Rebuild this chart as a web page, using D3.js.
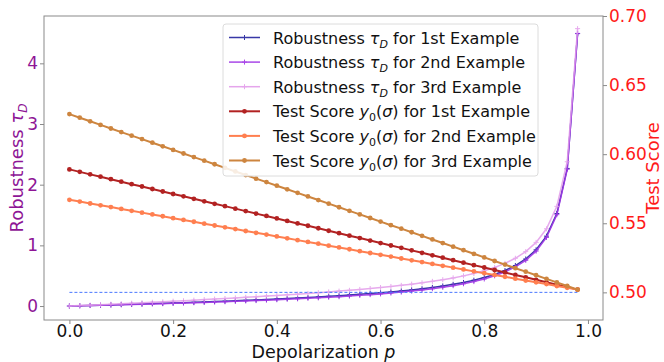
<!DOCTYPE html>
<html>
<head>
<meta charset="utf-8">
<script src="https://cdn.jsdelivr.net/npm/d3@7"></script>
<style>
  body { margin: 0; background: #fff; }
  svg { font-family: "DejaVu Sans", sans-serif; }
</style>
</head>
<body>
<div id="chart"></div>
<script>
const depolarization = [0, 0.02, 0.04, 0.06, 0.08, 0.1, 0.12, 0.14, 0.16, 0.18, 0.2, 0.22, 0.24, 0.26, 0.28, 0.3, 0.32, 0.34, 0.36, 0.38,
  0.4, 0.42, 0.44, 0.46, 0.48, 0.5, 0.52, 0.54, 0.56, 0.58, 0.6, 0.62, 0.64, 0.66, 0.68, 0.7, 0.72, 0.74, 0.76, 0.78,
  0.8, 0.82, 0.84, 0.86, 0.88, 0.9, 0.92, 0.94, 0.96, 0.98]

const robust1 = [0, 0.005, 0.009, 0.014, 0.019, 0.024, 0.029, 0.034, 0.040, 0.045, 0.051, 0.056, 0.062, 0.068, 0.074, 0.081, 0.087, 0.094, 0.101, 0.108,
  0.116, 0.124, 0.132, 0.141, 0.150, 0.160, 0.170, 0.181, 0.193, 0.205, 0.218, 0.233, 0.249, 0.266, 0.285, 0.307, 0.331, 0.358, 0.389, 0.426,
  0.469, 0.521, 0.585, 0.668, 0.776, 0.927, 1.152, 1.525, 2.268, 4.490]
const robust2 = [0, 0.004, 0.008, 0.012, 0.017, 0.021, 0.025, 0.030, 0.035, 0.039, 0.044, 0.049, 0.055, 0.060, 0.066, 0.071, 0.077, 0.084, 0.090, 0.097,
  0.104, 0.111, 0.119, 0.127, 0.135, 0.145, 0.154, 0.164, 0.176, 0.188, 0.200, 0.214, 0.230, 0.246, 0.265, 0.286, 0.309, 0.336, 0.367, 0.403,
  0.446, 0.498, 0.562, 0.644, 0.753, 0.905, 1.130, 1.506, 2.254, 4.493]
const robust3 = [0, 0.008, 0.015, 0.023, 0.031, 0.039, 0.047, 0.055, 0.063, 0.071, 0.080, 0.088, 0.097, 0.106, 0.115, 0.125, 0.134, 0.144, 0.154, 0.164,
  0.174, 0.185, 0.196, 0.208, 0.220, 0.233, 0.246, 0.259, 0.274, 0.289, 0.305, 0.323, 0.341, 0.361, 0.383, 0.407, 0.434, 0.464, 0.497, 0.536,
  0.582, 0.636, 0.703, 0.787, 0.897, 1.049, 1.273, 1.643, 2.378, 4.572]

const score1 = [0.5890, 0.5872, 0.5854, 0.5837, 0.5819, 0.5801, 0.5783, 0.5766, 0.5748, 0.5730, 0.5712, 0.5695, 0.5677, 0.5659, 0.5641, 0.5624, 0.5606, 0.5588, 0.5570, 0.5553,
  0.5535, 0.5517, 0.5499, 0.5482, 0.5464, 0.5446, 0.5428, 0.5410, 0.5393, 0.5375, 0.5357, 0.5339, 0.5322, 0.5304, 0.5286, 0.5268, 0.5251, 0.5233, 0.5215, 0.5197,
  0.5180, 0.5162, 0.5144, 0.5126, 0.5109, 0.5091, 0.5073, 0.5055, 0.5038, 0.5020]
const score2 = [0.5670, 0.5657, 0.5643, 0.5630, 0.5617, 0.5604, 0.5590, 0.5577, 0.5564, 0.5551, 0.5537, 0.5524, 0.5511, 0.5497, 0.5484, 0.5471, 0.5458, 0.5444, 0.5431, 0.5418,
  0.5405, 0.5391, 0.5378, 0.5365, 0.5352, 0.5338, 0.5325, 0.5312, 0.5298, 0.5285, 0.5272, 0.5259, 0.5245, 0.5232, 0.5219, 0.5206, 0.5192, 0.5179, 0.5166, 0.5152,
  0.5139, 0.5126, 0.5113, 0.5099, 0.5086, 0.5073, 0.5060, 0.5046, 0.5033, 0.5020]
const score3 = [0.6290, 0.6264, 0.6238, 0.6212, 0.6186, 0.6160, 0.6134, 0.6109, 0.6083, 0.6057, 0.6031, 0.6005, 0.5979, 0.5953, 0.5927, 0.5901, 0.5875, 0.5849, 0.5823, 0.5798,
  0.5772, 0.5746, 0.5720, 0.5694, 0.5668, 0.5642, 0.5616, 0.5590, 0.5564, 0.5538, 0.5512, 0.5486, 0.5461, 0.5435, 0.5409, 0.5383, 0.5357, 0.5331, 0.5305, 0.5279,
  0.5253, 0.5227, 0.5201, 0.5175, 0.5150, 0.5124, 0.5098, 0.5072, 0.5046, 0.5020]

const baselineScore = 0.5
const ordinals = ['1st', '2nd', '3rd']

const xTicks = [0, 0.2, 0.4, 0.6, 0.8, 1.0]
const leftTicks = [0, 1, 2, 3, 4]
const rightTicks = [0.50, 0.55, 0.60, 0.65, 0.70]

const width = 664
const height = 362
const margin = { top: 16, right: 61, bottom: 42, left: 44 }
const fontSize = 17
const legendFontSize = 16

const robustColors = ['#23239e', '#a035e6', '#e39ceb']
const scoreColors = ['#b22222', '#ff7f50', '#cd853f']

const svg = d3.select('#chart').append('svg').attr('width', width).attr('height', height)

const x = d3.scaleLinear().domain([-0.049, 1.029]).range([margin.left, width - margin.right])
const yLeft = d3.scaleLinear().domain([-0.23, 4.78]).range([height - margin.bottom, margin.top])
const yRight = d3.scaleLinear().domain([0.48, 0.70]).range([height - margin.bottom, margin.top])

const robustSeries = [robust1, robust2, robust3]
const scoreSeries = [score1, score2, score3]

// robustness curves (left axis)
const robustGroup = svg.append('g').attr('class', 'robustGroup')
robustSeries.forEach((values, i) => {
  const pts = depolarization.map((p, j) => ({ p, v: values[j] }))
  const g = robustGroup.append('g').attr('opacity', i === 2 ? 0.85 : 0.9)
  g.append('path')
    .datum(pts)
    .attr('fill', 'none')
    .attr('stroke', robustColors[i])
    .attr('stroke-width', 1.5)
    .attr('d', d3.line().x(d => x(d.p)).y(d => yLeft(d.v)))
  g.selectAll('path.plus').data(pts).enter().append('path')
    .attr('class', 'plus')
    .attr('d', d => `M${x(d.p) - 2.5},${yLeft(d.v)}h5M${x(d.p)},${yLeft(d.v) - 2.5}v5`)
    .attr('stroke', robustColors[i])
    .attr('stroke-width', 1)
})

// dashed reference line at test score 0.5
svg.append('line')
  .attr('x1', x(depolarization[0]))
  .attr('x2', x(depolarization[depolarization.length - 1]))
  .attr('y1', yRight(baselineScore))
  .attr('y2', yRight(baselineScore))
  .attr('stroke', '#4a78ff')
  .attr('stroke-width', 1)
  .attr('stroke-dasharray', '3,2')

// test score lines (right axis)
const scoreGroup = svg.append('g').attr('class', 'scoreGroup')
scoreSeries.forEach((values, i) => {
  const pts = depolarization.map((p, j) => ({ p, v: values[j] }))
  scoreGroup.append('path')
    .datum(pts)
    .attr('fill', 'none')
    .attr('stroke', scoreColors[i])
    .attr('stroke-width', 2)
    .attr('d', d3.line().x(d => x(d.p)).y(d => yRight(d.v)))
  scoreGroup.selectAll(`circle.s${i}`).data(pts).enter().append('circle')
    .attr('class', `s${i}`)
    .attr('cx', d => x(d.p))
    .attr('cy', d => yRight(d.v))
    .attr('r', 2.4)
    .attr('fill', scoreColors[i])
})

// frame
svg.append('rect')
  .attr('x', margin.left).attr('y', margin.top)
  .attr('width', width - margin.left - margin.right)
  .attr('height', height - margin.top - margin.bottom)
  .attr('fill', 'none').attr('stroke', '#8a8a8a').attr('stroke-width', 1)

// axes
const xAxisGroup = svg.append('g').attr('transform', `translate(0, ${height - margin.bottom})`)
  .call(d3.axisBottom(x).tickValues(xTicks).tickFormat(d3.format('.1f')).tickSize(4).tickPadding(1))
const yLeftGroup = svg.append('g').attr('transform', `translate(${margin.left}, 0)`)
  .call(d3.axisLeft(yLeft).tickValues(leftTicks).tickFormat(d3.format('d')).tickSize(4).tickPadding(2))
const yRightGroup = svg.append('g').attr('transform', `translate(${width - margin.right}, 0)`)
  .call(d3.axisRight(yRight).tickValues(rightTicks).tickFormat(d3.format('.2f')).tickSize(4).tickPadding(2))

svg.selectAll('.domain').remove()
svg.selectAll('.tick line').attr('stroke', '#8a8a8a')
svg.selectAll('.tick text').attr('font-family', 'DejaVu Sans').attr('font-size', fontSize)
xAxisGroup.selectAll('.tick text').attr('fill', '#111')
yLeftGroup.selectAll('.tick text').attr('fill', '#8e1596')
yRightGroup.selectAll('.tick text').attr('fill', '#ff1a1a')

// axis labels
const xLabel = svg.append('text')
  .attr('x', (margin.left + width - margin.right) / 2)
  .attr('y', 358)
  .attr('text-anchor', 'middle')
  .attr('font-size', 17.5)
  .attr('fill', '#111')
xLabel.append('tspan').text('Depolarization ')
xLabel.append('tspan').attr('font-style', 'italic').text('p')

const midY = (margin.top + height - margin.bottom) / 2
const leftLabel = svg.append('text')
  .attr('transform', `translate(23, ${midY}) rotate(-90)`)
  .attr('text-anchor', 'middle')
  .attr('font-size', 18)
  .attr('fill', '#8e1596')
leftLabel.append('tspan').text('Robustness ')
leftLabel.append('tspan').attr('font-style', 'italic').text('τ')
leftLabel.append('tspan').attr('font-style', 'italic').attr('font-size', 12).attr('dy', 4).text('D')

svg.append('text')
  .attr('transform', `translate(659, ${midY}) rotate(-90)`)
  .attr('text-anchor', 'middle')
  .attr('font-size', 18)
  .attr('fill', '#ff1a1a')
  .text('Test Score')

// legend
const legend = svg.append('g').attr('transform', 'translate(223, 24)')
legend.append('rect')
  .attr('width', 315).attr('height', 152).attr('rx', 3)
  .attr('fill', 'rgba(255,255,255,0.85)').attr('stroke', '#dcdcdc')

const rowGap = 24.6
ordinals.forEach((ord, i) => {
  const cy = 13.5 + i * rowGap
  const row = legend.append('g').attr('opacity', 0.9)
  row.append('line').attr('x1', 6).attr('x2', 37).attr('y1', cy).attr('y2', cy)
    .attr('stroke', robustColors[i]).attr('stroke-width', 1.5)
  row.append('path').attr('d', `M19,${cy}h5M21.5,${cy - 2.5}v5`).attr('stroke', robustColors[i])
  const t = legend.append('text').attr('x', 50).attr('y', cy + 6).attr('font-size', legendFontSize).attr('fill', '#111')
  t.append('tspan').text('Robustness ')
  t.append('tspan').attr('font-style', 'italic').text('τ')
  t.append('tspan').attr('font-style', 'italic').attr('font-size', 11).attr('dy', 4).text('D')
  t.append('tspan').attr('dy', -4).text(` for ${ord} Example`)
})
ordinals.forEach((ord, i) => {
  const cy = 13.5 + (i + 3) * rowGap
  legend.append('line').attr('x1', 6).attr('x2', 37).attr('y1', cy).attr('y2', cy)
    .attr('stroke', scoreColors[i]).attr('stroke-width', 2)
  legend.append('circle').attr('cx', 21.5).attr('cy', cy).attr('r', 2.4).attr('fill', scoreColors[i])
  const t = legend.append('text').attr('x', 50).attr('y', cy + 6).attr('font-size', legendFontSize).attr('fill', '#111')
  t.append('tspan').text('Test Score ')
  t.append('tspan').attr('font-style', 'italic').text('y')
  t.append('tspan').attr('font-size', 11).attr('dy', 4).text('0')
  t.append('tspan').attr('dy', -4).text('(')
  t.append('tspan').attr('font-style', 'italic').text('σ')
  t.append('tspan').text(`) for ${ord} Example`)
})
</script>
</body>
</html>
